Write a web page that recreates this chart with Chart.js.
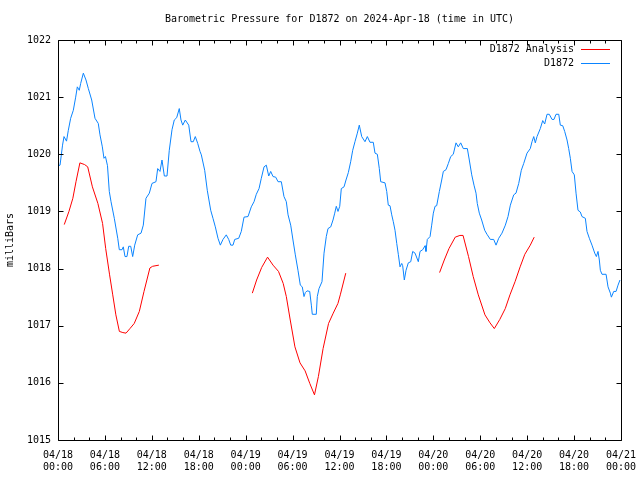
<!DOCTYPE html>
<html><head><meta charset="utf-8">
<script src="https://cdn.jsdelivr.net/npm/chart.js@4/dist/chart.umd.min.js"></script>
<style>html,body{margin:0;padding:0;background:#fff}#wrap{width:640px;height:480px}</style>
</head><body><div id="wrap"><canvas id="c" width="640" height="480"></canvas></div>
<script>
const titleText = 'Barometric Pressure for D1872 on 2024-Apr-18 (time in UTC)';
const yTitle = 'milliBars';
const seriesNames = ['D1872 Analysis', 'D1872'];
const xTickLabels = [
  ['04/18','00:00'],['04/18','06:00'],['04/18','12:00'],['04/18','18:00'],
  ['04/19','00:00'],['04/19','06:00'],['04/19','12:00'],['04/19','18:00'],
  ['04/20','00:00'],['04/20','06:00'],['04/20','12:00'],['04/20','18:00'],
  ['04/21','00:00']
];
const yMin = 1015, yMax = 1022;

// hours since 2024-04-18 00:00 UTC
const blueHours = [0.06,0.26,0.58,0.77,1.09,1.32,1.62,1.96,2.26,2.47,2.72,2.90,3.24,3.58,3.88,4.31,4.73,5.15,5.37,5.67,5.88,6.07,6.33,6.56,6.78,7.20,7.64,7.84,8.19,8.35,8.57,8.82,9.04,9.30,9.55,9.81,10.19,10.62,10.91,11.25,11.68,12.02,12.53,12.75,13.04,13.30,13.60,13.94,14.23,14.58,14.87,15.18,15.51,15.73,15.95,16.28,16.72,17.01,17.30,17.56,17.87,18.16,18.33,18.76,19.09,19.53,19.82,20.12,20.46,20.76,21.10,21.52,21.83,22.09,22.38,22.60,23.11,23.44,23.79,24.30,24.72,25.07,25.36,25.71,26.00,26.35,26.64,26.95,27.20,27.50,27.84,28.14,28.56,28.90,29.20,29.42,29.76,30.05,30.35,30.69,30.99,31.24,31.46,31.63,31.85,32.19,32.40,32.52,33.03,33.16,33.38,33.76,34.02,34.31,34.53,34.88,35.17,35.39,35.59,35.81,36.03,36.23,36.58,36.83,37.13,37.43,37.69,37.98,38.28,38.53,38.84,39.26,39.56,39.90,40.32,40.54,40.84,41.09,41.27,41.82,42.04,42.24,42.46,42.68,42.88,43.10,43.32,43.52,43.74,43.96,44.08,44.29,44.51,44.80,45.11,45.36,45.66,46.08,46.30,46.64,46.94,47.06,47.23,47.58,47.79,48.00,48.22,48.43,48.77,49.07,49.28,49.62,49.92,50.22,50.55,50.90,51.19,51.50,51.83,52.35,52.60,52.91,53.20,53.46,53.62,53.88,54.18,54.57,54.86,55.29,55.72,56.02,56.36,56.78,57.21,57.55,57.85,58.28,58.57,58.92,59.25,59.56,59.98,60.40,60.62,60.84,61.04,61.26,61.68,61.99,62.24,62.54,62.83,63.18,63.43,63.69,64.04,64.24,64.55,64.80,65.10,65.31,65.52,65.74,66.03,66.25,66.50,66.80,67.01,67.44,67.65,67.95,68.29,68.64,68.85,69.06,69.23,69.36,69.57,70.09,70.34,70.64,70.77,71.07,71.37,71.62,71.87];
const bluePressure = [1019.80,1019.81,1020.16,1020.31,1020.23,1020.42,1020.63,1020.77,1021.00,1021.18,1021.12,1021.24,1021.42,1021.30,1021.15,1020.95,1020.63,1020.54,1020.34,1020.13,1019.93,1019.96,1019.80,1019.35,1019.17,1018.88,1018.53,1018.33,1018.33,1018.38,1018.21,1018.21,1018.39,1018.39,1018.21,1018.41,1018.59,1018.62,1018.76,1019.23,1019.32,1019.49,1019.52,1019.75,1019.70,1019.90,1019.62,1019.62,1020.07,1020.43,1020.60,1020.64,1020.80,1020.60,1020.51,1020.60,1020.51,1020.22,1020.22,1020.31,1020.19,1020.05,1019.99,1019.72,1019.37,1019.02,1018.88,1018.73,1018.53,1018.41,1018.51,1018.59,1018.51,1018.41,1018.41,1018.51,1018.53,1018.65,1018.90,1018.91,1019.08,1019.17,1019.30,1019.40,1019.58,1019.78,1019.81,1019.62,1019.70,1019.61,1019.60,1019.52,1019.52,1019.26,1019.17,1018.94,1018.76,1018.50,1018.24,1017.97,1017.71,1017.68,1017.51,1017.58,1017.61,1017.60,1017.36,1017.20,1017.20,1017.51,1017.65,1017.77,1018.27,1018.56,1018.70,1018.73,1018.85,1018.97,1019.09,1019.00,1019.09,1019.40,1019.43,1019.55,1019.68,1019.87,1020.07,1020.22,1020.37,1020.51,1020.31,1020.22,1020.31,1020.21,1020.21,1020.02,1020.00,1019.75,1019.52,1019.50,1019.35,1019.11,1019.10,1018.94,1018.82,1018.67,1018.44,1018.25,1018.03,1018.09,1018.05,1017.80,1017.97,1018.10,1018.12,1018.30,1018.27,1018.12,1018.30,1018.33,1018.40,1018.30,1018.51,1018.56,1018.76,1018.97,1019.09,1019.10,1019.35,1019.55,1019.70,1019.73,1019.84,1019.96,1020.00,1020.20,1020.13,1020.20,1020.10,1020.10,1019.90,1019.64,1019.46,1019.32,1019.14,1018.97,1018.85,1018.67,1018.60,1018.51,1018.51,1018.41,1018.53,1018.62,1018.76,1018.91,1019.11,1019.29,1019.32,1019.49,1019.72,1019.84,1020.02,1020.10,1020.22,1020.31,1020.20,1020.31,1020.45,1020.59,1020.53,1020.70,1020.70,1020.61,1020.61,1020.70,1020.70,1020.51,1020.50,1020.40,1020.25,1020.10,1019.93,1019.70,1019.64,1019.32,1019.02,1018.99,1018.91,1018.88,1018.65,1018.53,1018.41,1018.27,1018.21,1018.30,1018.15,1017.97,1017.90,1017.90,1017.68,1017.57,1017.50,1017.60,1017.60,1017.71,1017.80];

const redHours = [0.8,1.4,1.9,2.3,2.8,3.4,3.8,4.4,5.1,5.7,6.1,6.6,7.0,7.4,7.85,8.3,8.7,9.2,9.75,10.4,11.0,11.75,12.1,12.9,
  18.0,
  24.85,25.4,26.05,26.8,27.5,28.2,28.8,29.2,29.7,30.3,30.95,31.6,32.2,32.8,33.3,33.9,34.6,35.2,35.8,36.1,36.8,
  42.0,
  48.8,49.4,50.0,50.8,51.4,51.8,52.5,53.1,53.75,54.6,55.25,55.8,56.5,57.2,57.8,58.45,59.1,59.7,60.4,60.9];
const redPressure = [1018.77,1019.00,1019.23,1019.52,1019.85,1019.82,1019.78,1019.43,1019.14,1018.79,1018.35,1017.89,1017.54,1017.19,1016.90,1016.88,1016.87,1016.95,1017.04,1017.25,1017.60,1018.01,1018.04,1018.06,
  null,
  1017.57,1017.80,1018.02,1018.20,1018.06,1017.95,1017.74,1017.51,1017.10,1016.63,1016.35,1016.21,1015.99,1015.79,1016.11,1016.60,1017.04,1017.22,1017.39,1017.54,1017.92,
  null,
  1017.93,1018.15,1018.35,1018.55,1018.58,1018.58,1018.21,1017.86,1017.54,1017.19,1017.05,1016.95,1017.11,1017.30,1017.54,1017.77,1018.03,1018.25,1018.41,1018.55];

const redColor = '#ff0000';
const blueColor = '#0a84ff';
const FONT = '"DejaVu Sans Mono", monospace';

Chart.defaults.font.family = FONT;
Chart.defaults.font.size = 10;
Chart.defaults.color = '#000';

const toPts = (xs, ys) => xs.map((h, i) => ({x: h, y: ys[i]}));

const framePlugin = {
  id: 'frame',
  afterDraw(chart) {
    const {ctx, chartArea: a, scales: {x, y}} = chart;
    ctx.save();
    ctx.strokeStyle = '#000';
    ctx.lineWidth = 1;
    const L = Math.round(a.left) + 0.5, R = Math.round(a.right) + 0.5;
    const T = Math.round(a.top) + 0.5, B = Math.round(a.bottom) + 0.5;
    ctx.beginPath();
    ctx.rect(L, T, R - L, B - T);
    for (let h = x.min; h <= x.max; h += 2) {
      const px = Math.round(x.getPixelForValue(h)) + 0.5;
      const len = (h % 6 === 0) ? 5 : 3;
      ctx.moveTo(px, B); ctx.lineTo(px, B - len);
      ctx.moveTo(px, T); ctx.lineTo(px, T + len);
    }
    for (let v = y.min; v <= y.max; v += 1) {
      const py = Math.round(y.getPixelForValue(v)) + 0.5;
      ctx.moveTo(L, py); ctx.lineTo(L + 5, py);
      ctx.moveTo(R, py); ctx.lineTo(R - 5, py);
    }
    ctx.stroke();
    // legend
    ctx.font = '10px ' + FONT;
    ctx.textAlign = 'right';
    ctx.textBaseline = 'middle';
    ctx.fillStyle = '#000';
    chart.data.datasets.forEach((ds, i) => {
      const ly = 49 + i * 14;
      ctx.fillText(ds.label, 574, ly);
      ctx.beginPath();
      ctx.strokeStyle = ds.borderColor;
      ctx.moveTo(581, ly + 0.5); ctx.lineTo(610, ly + 0.5);
      ctx.stroke();
    });
    ctx.restore();
  }
};

new Chart(document.getElementById('c'), {
  type: 'line',
  data: {
    datasets: [
      {label: seriesNames[0], data: toPts(redHours, redPressure), borderColor: redColor, borderWidth: 1, pointRadius: 0, spanGaps: false, tension: 0},
      {label: seriesNames[1], data: toPts(blueHours, bluePressure), borderColor: blueColor, borderWidth: 1, pointRadius: 0, tension: 0}
    ]
  },
  options: {
    responsive: false,
    devicePixelRatio: 1,
    animation: false,
    layout: {padding: {left: 0, right: 19, top: 0, bottom: 0}},
    plugins: {
      legend: {display: false},
      tooltip: {enabled: false},
      title: {display: true, text: titleText, fullSize: false, padding: {top: 13, bottom: 15}, font: {size: 10, family: FONT, weight: 'normal'}, color: '#000'}
    },
    scales: {
      x: {
        type: 'linear', min: 0, max: 72,
        grid: {display: false, drawTicks: false},
        border: {display: false},
        ticks: {stepSize: 6, autoSkip: false, maxRotation: 0, padding: 9, font: {size: 10}, callback: v => xTickLabels[Math.round(v / 6)]},
        afterFit: s => { s.height = 40; s.paddingLeft = 0; s.paddingRight = 0; }
      },
      y: {
        type: 'linear', min: yMin, max: yMax,
        grid: {display: false, drawTicks: false},
        border: {display: false},
        ticks: {stepSize: 1, padding: 7, font: {size: 10}, callback: v => String(v)},
        title: {display: true, text: yTitle, padding: {top: 4, bottom: 0}, font: {size: 10}},
        afterFit: s => { s.width = 58; s.paddingTop = 0; s.paddingBottom = 0; }
      }
    }
  },
  plugins: [framePlugin]
});
</script>
</body></html>
